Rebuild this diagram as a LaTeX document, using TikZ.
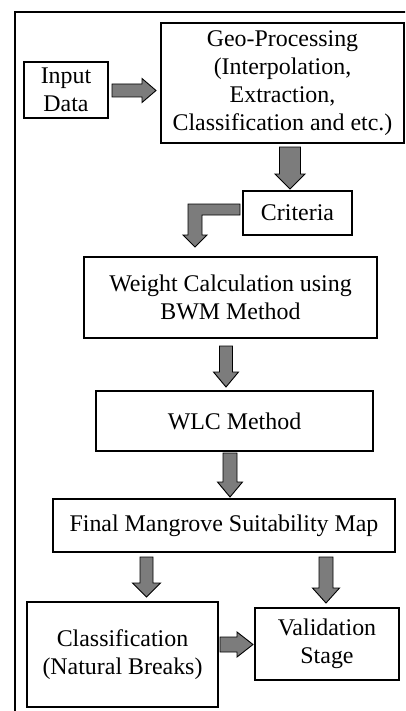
\documentclass[tikz,border=0pt]{standalone}
\usepackage{fontspec}
\setmainfont{Liberation Serif}
\definecolor{arrowgrey}{HTML}{7C7C7C}
% downward block arrow: centre x, top y, head start y, tip y, shaft half width, head half width
\newcommand{\blockdown}[6]{%
  \draw[blockarrow] ({#1-#5},#2) -- ({#1+#5},#2) -- ({#1+#5},#3) -- ({#1+#6},#3)
    -- (#1,#4) -- ({#1-#6},#3) -- ({#1-#5},#3) -- cycle;}
% rightward block arrow: centre y, left x, head start x, tip x, shaft half height, head half height
\newcommand{\blockright}[6]{%
  \draw[blockarrow] (#2,{#1-#5}) -- (#3,{#1-#5}) -- (#3,{#1-#6}) -- (#4,#1)
    -- (#3,{#1+#6}) -- (#3,{#1+#5}) -- (#2,{#1+#5}) -- cycle;}
\tikzset{
  box/.style={draw=black, line width=1.3bp, fill=white, inner sep=0pt, align=center,
    font=\fontsize{24}{28}\selectfont},
  blockarrow/.style={draw=black, line width=0.9bp, fill=arrowgrey, line join=miter}
}
\begin{document}
\begin{tikzpicture}[x=1bp, y=-1bp]
\useasboundingbox (0,0) rectangle (405,711);
\clip (0,0) rectangle (405,711);
\fill[white] (0,0) rectangle (405,711);
% outer frame
\draw[line width=1.3bp] (15,740) -- (15,12) -- (430,12);

% process boxes
\node[box, minimum width=84bp, minimum height=56bp] (input) at (66,90) {Input\\Data};
\node[box, minimum width=243bp, minimum height=120bp] (geo) at (282.5,83)
  {Geo-Processing\\(Interpolation,\\Extraction,\\Classification and etc.)};
\node[box, minimum width=109bp, minimum height=44bp] (crit) at (297.5,213) {Criteria};
\node[box, minimum width=293bp, minimum height=81bp] (weight) at (230.5,297.5)
  {Weight Calculation using\\BWM Method};
\node[box, minimum width=277bp, minimum height=60bp] (wlc) at (234.5,421) {WLC Method};
\node[box, minimum width=342bp, minimum height=53bp] (final) at (224,525.5)
  {Final Mangrove Suitability Map};
\node[box, minimum width=191bp, minimum height=105bp] (class) at (122.5,654.5)
  {Classification\\(Natural Breaks)};
\node[box, minimum width=144bp, minimum height=72bp] (valid) at (327,644)
  {Validation\\Stage};

% block arrows between the boxes
\blockright{90.5}{112}{142}{156}{6.5}{12}
\blockdown{290}{147}{174}{189}{10.5}{15}
\draw[blockarrow] (240,204) -- (188,204) -- (188,235) -- (183,235) -- (195,247)
  -- (207,235) -- (202,235) -- (202,215) -- (240,215) -- cycle;
\blockdown{226}{346}{372}{387}{6.5}{12.5}
\blockdown{230}{453}{482}{497}{7}{12.5}
\blockdown{146.5}{557}{583}{597}{6.5}{14}
\blockdown{326}{557}{588}{603}{7}{13.5}
\blockright{644.5}{220}{237}{253}{7.5}{12.5}
\end{tikzpicture}
\end{document}
